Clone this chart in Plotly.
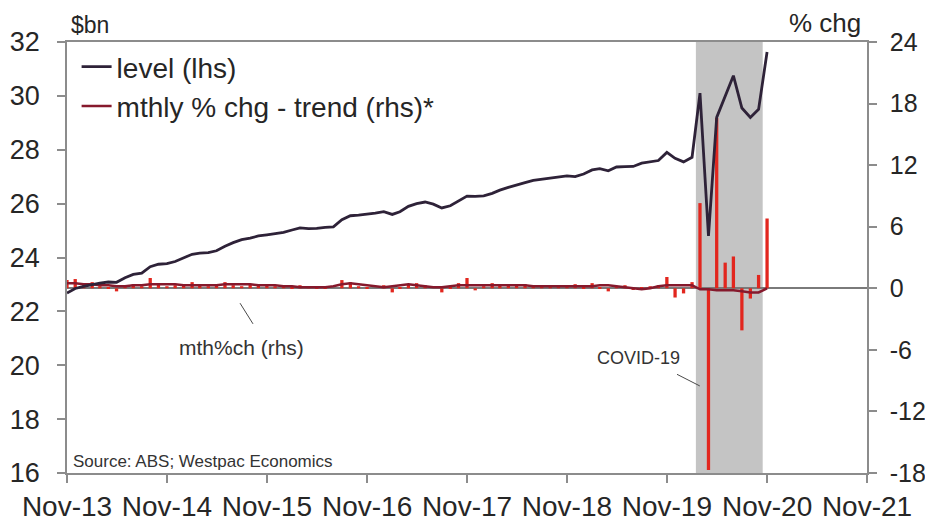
import pandas as pd
import plotly.graph_objects as go

# ---- data (monthly, Nov-2013 .. Nov-2020) ----
start_month = "2013-11-01"
n_months = 85

level_bn = [
    22.68, 22.85, 22.93, 23.00, 23.05, 23.09, 23.08, 23.25, 23.37, 23.42, 23.66, 23.75,
    23.77, 23.85, 24.00, 24.12, 24.16, 24.18, 24.25, 24.42, 24.55, 24.66, 24.72, 24.80,
    24.84, 24.88, 24.93, 25.02, 25.10, 25.07, 25.08, 25.12, 25.14, 25.40, 25.55, 25.57,
    25.60, 25.65, 25.70, 25.60, 25.70, 25.90, 26.00, 26.06, 25.98, 25.84, 25.92, 26.10,
    26.28, 26.27, 26.29, 26.38, 26.50, 26.60, 26.70, 26.78, 26.86, 26.90, 26.95, 27.00,
    27.03, 27.00, 27.10, 27.25, 27.30, 27.22, 27.36, 27.37, 27.38, 27.50, 27.56, 27.60,
    27.90, 27.68, 27.55, 27.72, 30.10, 24.80, 29.20, 30.00, 30.75, 29.55, 29.20, 29.50,
    31.63,
]

mth_pct_chg = [
    0.8, 0.9, 0.3, 0.6, 0.2, 0.1, -0.3, 0.3, 0.4, 0.2, 1.0, 0.4,
    0.2, 0.3, 0.3, 0.6, 0.3, 0.2, 0.4, 0.6, 0.3, 0.2, 0.4, 0.4,
    0.3, 0.2, 0.3, 0.1, 0.3, 0.2, 0.1, 0.1, 0.0, 0.8, 0.6, 0.2,
    0.1, 0.0, 0.3, -0.4, 0.1, 0.4, 0.5, 0.3, 0.0, -0.4, 0.1, 0.5,
    1.0, -0.2, 0.2, 0.5, 0.3, 0.4, 0.3, 0.4, 0.3, 0.2, 0.2, 0.3,
    0.2, 0.4, 0.1, 0.5, 0.1, -0.3, 0.2, 0.3, -0.1, 0.1, 0.2, 0.3,
    1.1, -0.9, -0.5, 0.6, 8.3, -17.7, 16.6, 2.5, 3.1, -4.1, -1.0, 1.3,
    6.8,
]

trend_pct_chg = [
    0.5, 0.5, 0.4, 0.4, 0.3, 0.3, 0.2, 0.2, 0.3, 0.3, 0.4, 0.4,
    0.4, 0.4, 0.3, 0.3, 0.3, 0.3, 0.3, 0.4, 0.4, 0.4, 0.4, 0.3,
    0.3, 0.3, 0.2, 0.2, 0.1, 0.1, 0.1, 0.1, 0.2, 0.4, 0.5, 0.4,
    0.3, 0.2, 0.1, 0.2, 0.3, 0.4, 0.3, 0.2, 0.1, 0.1, 0.2, 0.3,
    0.3, 0.3, 0.3, 0.3, 0.3, 0.3, 0.3, 0.3, 0.2, 0.2, 0.2, 0.2,
    0.2, 0.2, 0.2, 0.2, 0.3, 0.3, 0.2, 0.1, 0.0, -0.1, 0.0, 0.2,
    0.3, 0.3, 0.3, 0.3, -0.1, -0.1, -0.2, -0.2, -0.2, -0.3, -0.4, -0.4,
    0.0,
]

x_tick_dates = ["2013-11-01", "2014-11-01", "2015-11-01", "2016-11-01", "2017-11-01",
                "2018-11-01", "2019-11-01", "2020-11-01", "2021-11-01"]
x_tick_labels = ["Nov-13", "Nov-14", "Nov-15", "Nov-16", "Nov-17",
                 "Nov-18", "Nov-19", "Nov-20", "Nov-21"]
lhs_ticks = [16, 18, 20, 22, 24, 26, 28, 30, 32]
rhs_ticks = [-18, -12, -6, 0, 6, 12, 18, 24]
rhs_tick_labels = ["-18", "-12", "-6", "0", "6", "12", "18", "24"]

covid_start = "2020-02-15"
covid_end = "2020-10-16"

dates = pd.date_range(start_month, periods=n_months, freq="MS")

FONT = "Liberation Sans, Arial, sans-serif"
TXT = "#262626"
AX = "#8c8c8c"

fig = go.Figure()

fig.add_trace(go.Bar(
    x=dates, y=mth_pct_chg, yaxis="y", name="mth%ch (rhs)",
    marker=dict(color="#e2261e", line=dict(width=0)),
    width=12 * 24 * 3600 * 1000, showlegend=False,
))
fig.add_trace(go.Scatter(
    x=dates, y=trend_pct_chg, yaxis="y", mode="lines",
    name="mthly % chg - trend (rhs)*", legendrank=2, legendgroup="b",
    line=dict(color="#86192c", width=2.5),
))
fig.add_trace(go.Scatter(
    x=dates, y=level_bn, yaxis="y2", mode="lines",
    name="level (lhs)", legendrank=1, legendgroup="a",
    line=dict(color="#2e2238", width=2.8),
))

# page has an 8px body margin, so the figure is 925x516 and offset by 8px
fig.update_layout(
    width=925, height=516,
    margin=dict(l=59, r=66, t=34, b=51, autoexpand=False),
    paper_bgcolor="white", plot_bgcolor="white",
    font=dict(family=FONT, color=TXT),
    barmode="overlay",
    showlegend=True,
    legend=dict(x=0.012, y=1.0, xanchor="left", yanchor="top",
                bgcolor="rgba(0,0,0,0)", font=dict(size=28, color=TXT),
                tracegroupgap=0, itemwidth=30),
    xaxis=dict(
        type="date", range=["2013-11-01", "2021-11-01"],
        tickvals=x_tick_dates, ticktext=x_tick_labels,
        ticks="outside", ticklen=8, tickcolor=AX, tickwidth=1.5,
        showline=True, linecolor=AX, linewidth=1.5, mirror=True,
        showgrid=False, zeroline=False, automargin=False,
        tickfont=dict(size=28, color=TXT),
    ),
    yaxis=dict(
        side="right", range=[-18, 24], tickvals=rhs_ticks, ticktext=rhs_tick_labels,
        ticks="outside", ticklen=8, tickcolor=AX, tickwidth=1.5,
        showline=True, linecolor=AX, linewidth=1.5,
        showgrid=False, zeroline=True, zerolinecolor="#7a7a7a", zerolinewidth=1.5,
        tickfont=dict(size=25, color=TXT), ticklabelstandoff=8, automargin=False,
        ticklabeloverflow="allow",
    ),
    yaxis2=dict(
        side="left", overlaying="y", range=[16, 32], tickvals=lhs_ticks,
        ticks="outside", ticklen=8, tickcolor=AX, tickwidth=1.5,
        showline=True, linecolor=AX, linewidth=1.5,
        showgrid=False, zeroline=False, automargin=False,
        tickfont=dict(size=27, color=TXT), ticklabelstandoff=12,
    ),
    shapes=[
        dict(type="rect", xref="x", yref="paper", x0=covid_start, x1=covid_end,
             y0=0, y1=1, fillcolor="#c4c4c4", line=dict(width=0), layer="below"),
        dict(type="line", xref="paper", yref="paper", x0=0.2163, y0=0.394,
             x1=0.2325, y1=0.346, line=dict(color="#4a4a4a", width=1)),
        dict(type="line", xref="paper", yref="paper", x0=0.7625, y0=0.229,
             x1=0.791, y1=0.202, line=dict(color="#4a4a4a", width=1)),
    ],
    annotations=[
        dict(text="$bn", xref="paper", yref="paper", x=0.003, y=1.0,
             xanchor="left", yanchor="bottom", yshift=2, showarrow=False,
             font=dict(size=23, color=TXT)),
        dict(text="% chg", xref="paper", yref="paper", x=0.995, y=1.0,
             xanchor="right", yanchor="bottom", yshift=2, showarrow=False,
             font=dict(size=26, color=TXT)),
        dict(text="mth%ch (rhs)", xref="paper", yref="paper", x=0.2175, y=0.292,
             xanchor="center", yanchor="middle", showarrow=False,
             font=dict(size=21, color="#333333")),
        dict(text="COVID-19", xref="paper", yref="paper", x=0.714, y=0.267,
             xanchor="center", yanchor="middle", showarrow=False,
             font=dict(size=18, color="#333333")),
        dict(text="Source: ABS; Westpac Economics", xref="paper", yref="paper",
             x=0.005, y=0.026, xanchor="left", yanchor="middle", showarrow=False,
             font=dict(size=17, color="#333333")),
    ],
)

fig.write_html("out.html")
